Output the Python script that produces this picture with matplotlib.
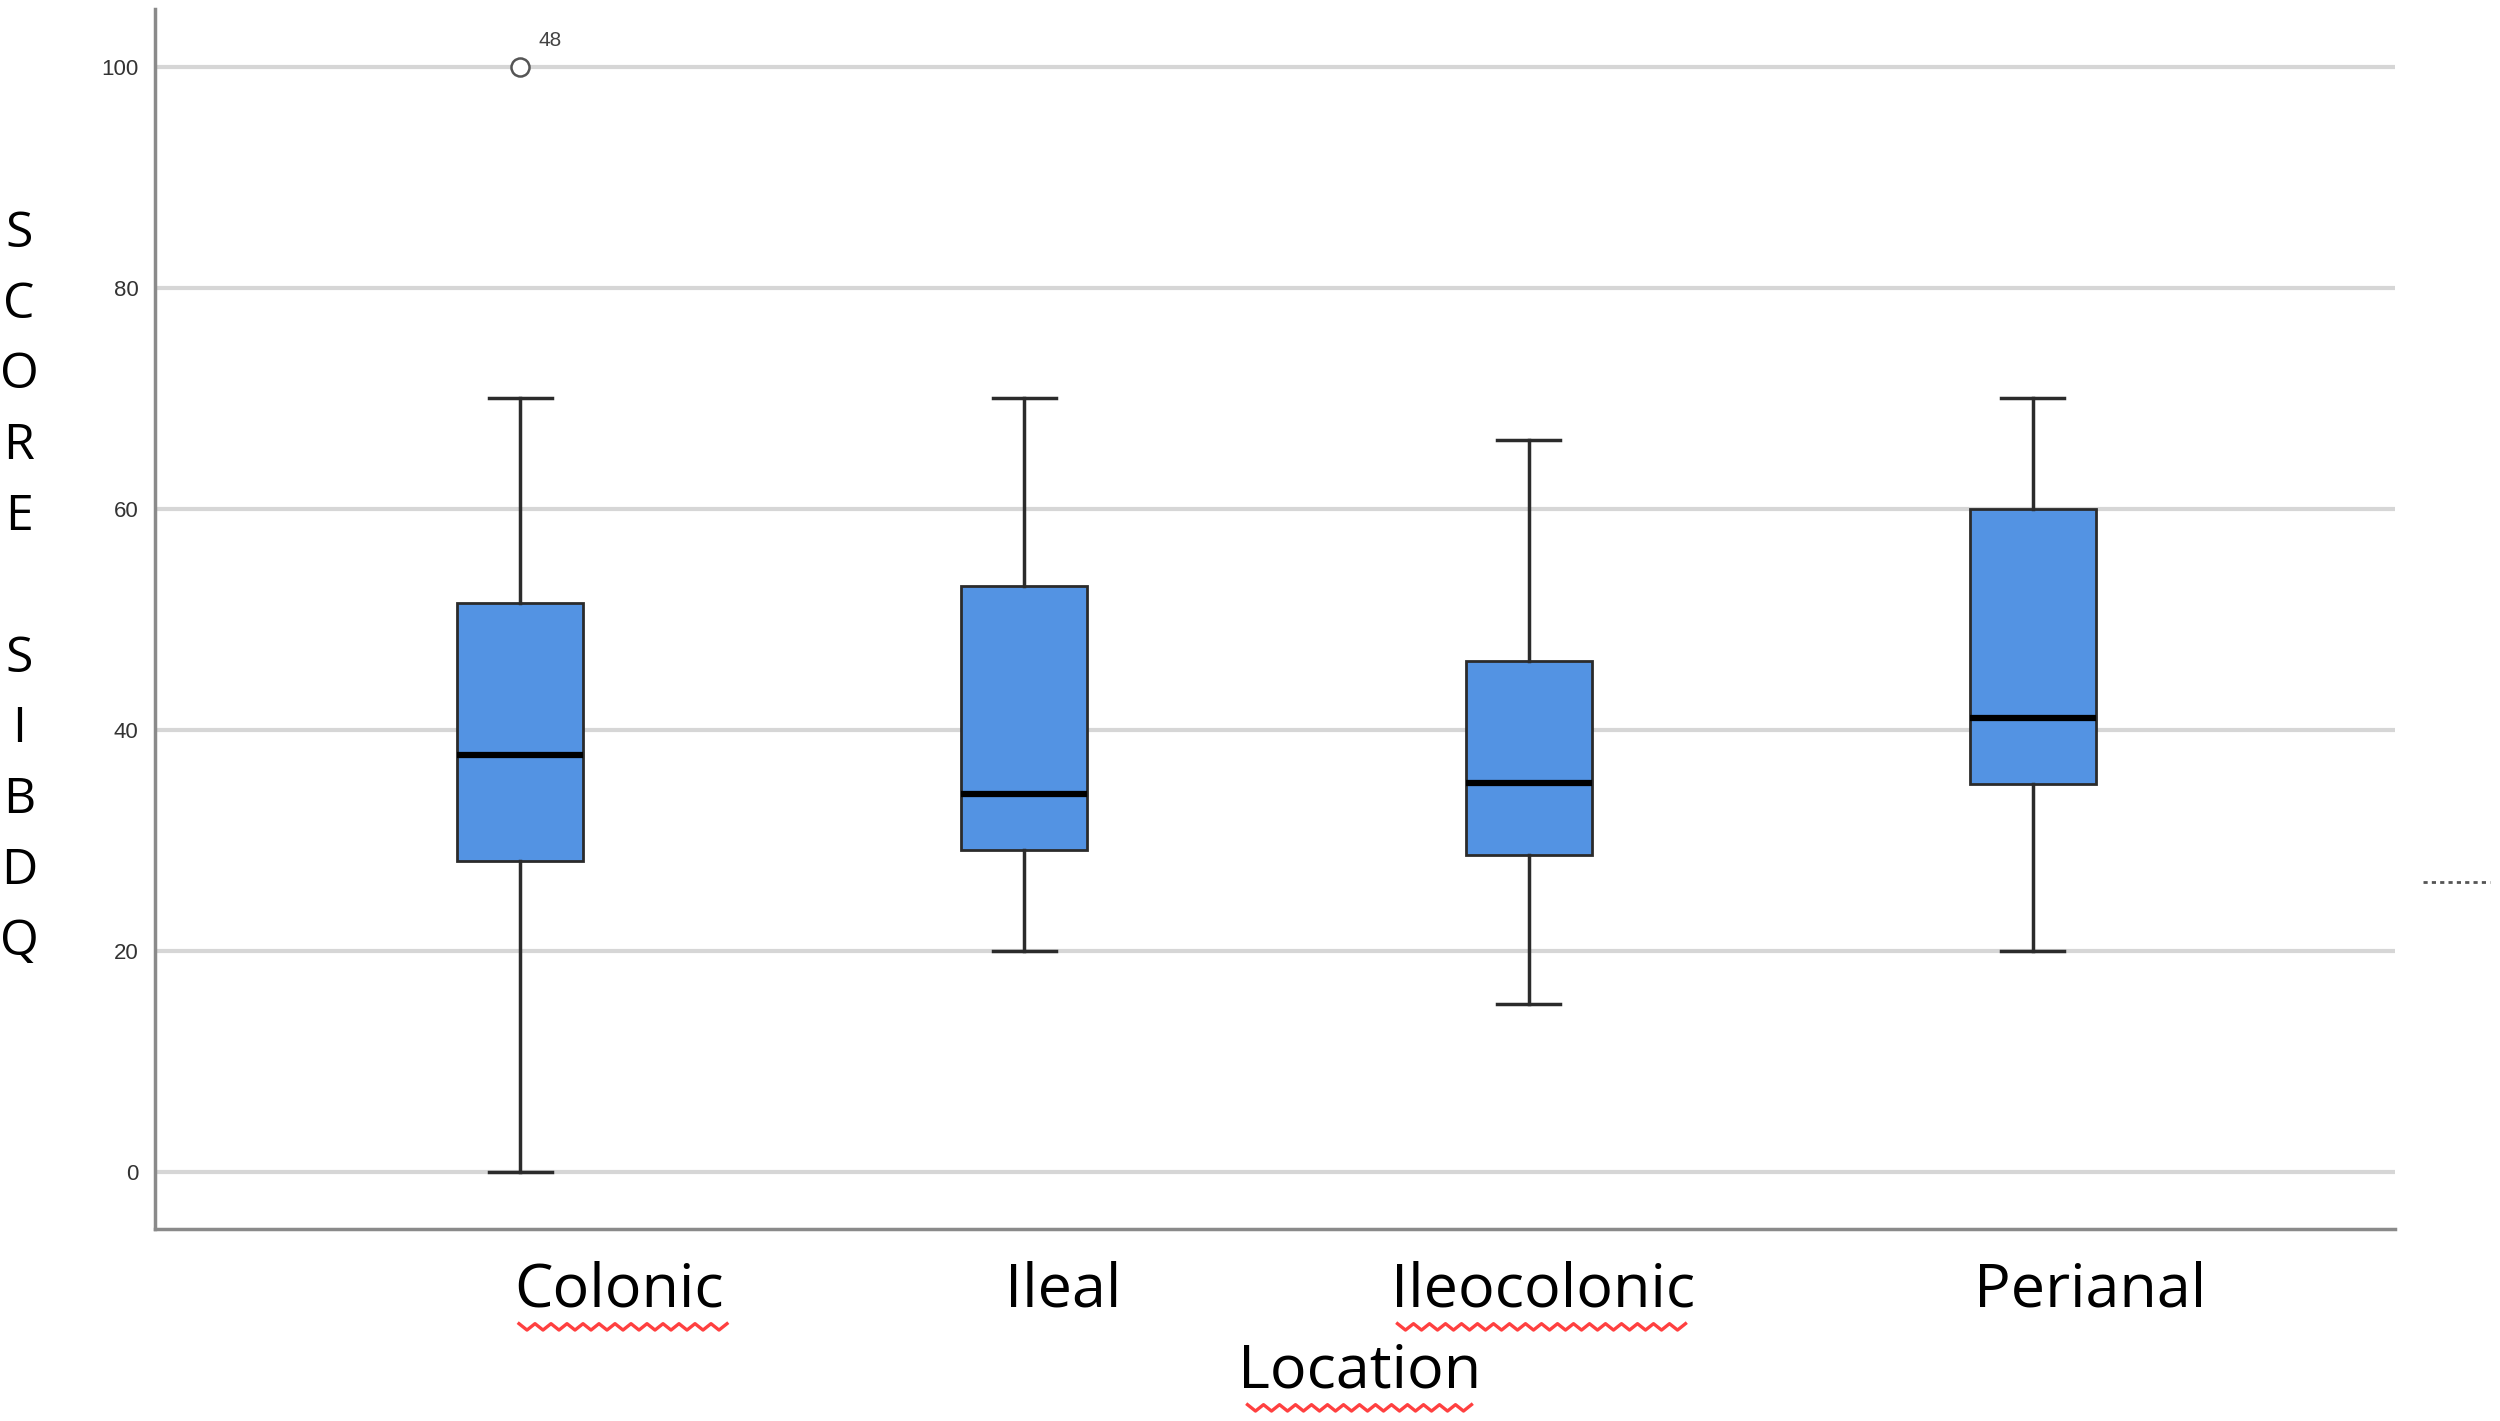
import matplotlib
matplotlib.use("Agg")
import matplotlib.pyplot as plt
from matplotlib.lines import Line2D

# --- Data ---
locations = ["Colonic", "Ileal", "Ileocolonic", "Perianal"]
whisker_low = [0, 20, 15.2, 20]
q1_values = [28.1, 29.1, 28.7, 35.1]
medians = [37.7, 34.2, 35.2, 41.1]
q3_values = [51.5, 53.0, 46.2, 60.0]
whisker_high = [70, 70, 66.2, 70]
outliers = [[100], [], [], []]
outlier_ids = [["48"], [], [], []]
y_ticks = [0, 20, 40, 60, 80, 100]
y_title = "SCORE SIBDQ"
x_title = "Location"

box_color = "#5393E3"
edge_color = "#2b2b2b"
label_font = ["Open Sans", "DejaVu Sans"]

fig = plt.figure(figsize=(25, 14.21), dpi=100)
ax = fig.add_axes([0.062, 0.135, 0.896, 0.859])

positions = list(range(1, len(locations) + 1))
stats = []
for i, name in enumerate(locations):
    stats.append({
        "label": name,
        "whislo": whisker_low[i],
        "q1": q1_values[i],
        "med": medians[i],
        "q3": q3_values[i],
        "whishi": whisker_high[i],
        "fliers": outliers[i],
    })

ax.bxp(stats, positions=positions, widths=0.25, patch_artist=True,
       boxprops=dict(facecolor=box_color, edgecolor=edge_color, linewidth=2),
       medianprops=dict(color="black", linewidth=4.5),
       whiskerprops=dict(color=edge_color, linewidth=2.5),
       capprops=dict(color=edge_color, linewidth=2.5),
       capwidths=0.125,
       flierprops=dict(marker="o", markersize=13, markerfacecolor="white",
                       markeredgecolor="#555555", markeredgewidth=1.8),
       zorder=3)

# labels for outliers
for i, pts in enumerate(outliers):
    for v, lab in zip(pts, outlier_ids[i]):
        ax.annotate(lab, (positions[i], v), xytext=(13, 15), textcoords="offset points",
                    fontsize=15, color="#444444", family="Liberation Sans")

ax.set_xlim(0.276, 4.718)
ax.set_ylim(-5.2, 105.3)
ax.set_yticks(y_ticks)
ax.set_yticklabels([str(t) for t in y_ticks], fontsize=16, color="#333333",
                   family="Liberation Sans")
ax.tick_params(axis="y", length=0, pad=12)
ax.set_xticks([])
ax.yaxis.grid(True, color="#d6d6d6", linewidth=3, zorder=0)
ax.set_axisbelow(True)
for side in ["top", "right"]:
    ax.spines[side].set_visible(False)
for side in ["left", "bottom"]:
    ax.spines[side].set_color("#8a8a8a")
    ax.spines[side].set_linewidth(2.5)

# category labels (placed like in the pasted picture, not under the boxes)
label_x = [0.2476, 0.4252, 0.6172, 0.8360]
for name, x in zip(locations, label_x):
    fig.text(x, 0.092, name, ha="center", va="center", fontsize=44,
             family=label_font, color="black")
fig.text(0.544, 0.035, x_title, ha="center", va="center", fontsize=44,
         family=label_font, color="black")

# vertical stacked y title
letters = list(y_title)
for k, ch in enumerate(letters):
    fig.text(0.0076, 1 - (234 + k * 70.8) / 1421, ch, ha="center", va="center",
             fontsize=36, family=label_font, color="black")


# red spell-check squiggles under some words
def squiggle(x0, x1, y, step=0.0032, amp=0.0045):
    xs, ys = [], []
    x = x0
    up = True
    while x <= x1:
        xs.append(x)
        ys.append(y + (amp if up else 0))
        up = not up
        x += step
    fig.add_artist(Line2D(xs, ys, color="#ff4040", linewidth=2.4))


squiggle(0.2076, 0.2920, 0.064)
squiggle(0.5590, 0.6770, 0.064)
squiggle(0.4990, 0.5910, 0.007)

# small dotted mark on the right edge
fig.add_artist(Line2D([0.969, 0.996], [1 - 882 / 1421, 1 - 882 / 1421],
                      color="#555555", linewidth=2, linestyle=(0, (1.5, 1.5))))

fig.savefig("out.png", dpi=100, facecolor="white")
